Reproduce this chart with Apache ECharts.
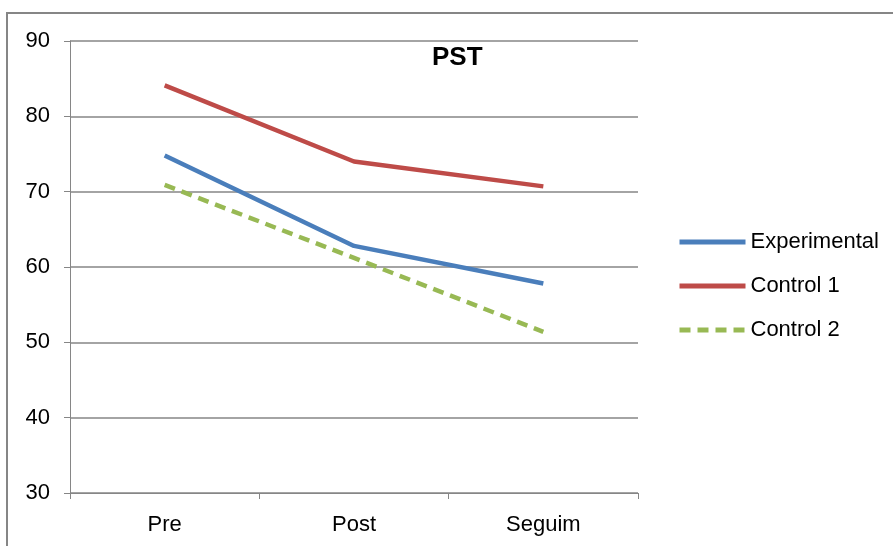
<!DOCTYPE html>
<html>
<head>
<meta charset="utf-8">
<script src="https://cdn.jsdelivr.net/npm/echarts@6/dist/echarts.min.js"></script>
<style>
  html, body { margin: 0; padding: 0; background: #fff; }
  #main { width: 893px; height: 546px; }
</style>
</head>
<body>
<div id="main"></div>
<script>
var categories = ['Pre', 'Post', 'Seguim'];
var experimental = [74.8, 62.8, 57.8];
var control1 = [84.1, 74.0, 70.7];
var control2 = [70.9, 61.2, 51.4];

var chart = echarts.init(document.getElementById('main'));
var font = 'Liberation Sans';

var option = {
  backgroundColor: '#fff',
  animation: false,
  color: ['#4a7ebb', '#be4b48', '#98b954'],
  title: {
    text: 'PST',
    left: 427,
    top: 40,
    textStyle: { fontFamily: font, fontSize: 26, fontWeight: 'bold', color: '#000' }
  },
  graphic: [{
    type: 'rect',
    shape: { x: 7, y: 13, width: 1000, height: 600 },
    style: { fill: null, stroke: '#868686', lineWidth: 2 },
    silent: true
  }],
  legend: {
    orient: 'vertical',
    left: 672,
    top: 226,
    itemWidth: 66,
    itemHeight: 4,
    itemGap: 22,
    itemStyle: { opacity: 0 },
    lineStyle: { width: 5 },
    textStyle: { fontFamily: font, fontSize: 22, color: '#000' },
    data: ['Experimental', 'Control 1', 'Control 2']
  },
  grid: { left: 70, right: 255, top: 41, bottom: 53 },
  xAxis: {
    type: 'category',
    data: categories,
    boundaryGap: true,
    axisLine: { lineStyle: { color: '#868686', width: 1 } },
    axisTick: { show: true, length: 6, lineStyle: { color: '#868686' } },
    axisLabel: { fontFamily: font, fontSize: 22, color: '#000', margin: 21 }
  },
  yAxis: {
    type: 'value',
    min: 30,
    max: 90,
    interval: 10,
    axisLine: { show: true, lineStyle: { color: '#868686', width: 1 } },
    axisTick: { show: true, length: 6, lineStyle: { color: '#868686' } },
    axisLabel: { fontFamily: font, fontSize: 22, color: '#000', margin: 20 },
    splitLine: { lineStyle: { color: '#868686', width: 1.5 } }
  },
  series: [
    {
      name: 'Experimental',
      type: 'line',
      data: experimental,
      symbol: 'none',
      lineStyle: { width: 4.5, color: '#4a7ebb' }
    },
    {
      name: 'Control 1',
      type: 'line',
      data: control1,
      symbol: 'none',
      lineStyle: { width: 4.5, color: '#be4b48' }
    },
    {
      name: 'Control 2',
      type: 'line',
      data: control2,
      symbol: 'none',
      lineStyle: { width: 4.5, color: '#98b954', type: [11, 7] }
    }
  ]
};

chart.setOption(option);
</script>
</body>
</html>
